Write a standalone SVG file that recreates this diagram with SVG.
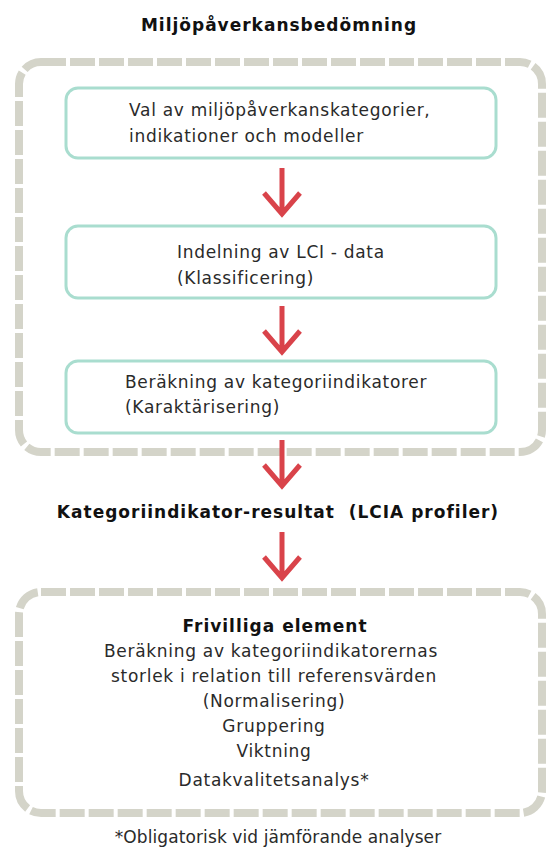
<svg xmlns="http://www.w3.org/2000/svg" width="546" height="853" viewBox="0 0 546 853">
<defs>
<style>
.dash{fill:none;stroke:#d4d4c9;stroke-width:8;stroke-dasharray:25 4}
.box{fill:#ffffff;stroke:#a9ddcf;stroke-width:3}
.t{font-family:"DejaVu Sans",Verdana,sans-serif;font-size:17px;letter-spacing:0.7px;fill:#2a2a2a}
.b{font-family:"DejaVu Sans",Verdana,sans-serif;font-size:17px;letter-spacing:1px;font-weight:bold;fill:#111111}
.c{text-anchor:middle}
.arr{fill:none;stroke:#d9434a;stroke-width:5;stroke-linecap:butt;stroke-linejoin:miter}
</style>
</defs>
<rect width="546" height="853" fill="#ffffff"/>
<text id="title" class="b c" x="279" y="31">Miljöpåverkansbedömning</text>
<g id="group-lcia">
<rect class="dash" x="19" y="62" width="523" height="390" rx="22"/>
</g>
<g id="node-val">
<rect class="box" x="66" y="88" width="430" height="70" rx="12"/>
<text class="t" x="129" y="116">Val av miljöpåverkanskategorier,</text>
<text class="t" x="129" y="142">indikationer och modeller</text>
</g>
<g id="node-indelning">
<rect class="box" x="66" y="226" width="430" height="72" rx="12"/>
<text class="t" x="177" y="258">Indelning av LCI - data</text>
<text class="t" x="177" y="284">(Klassificering)</text>
</g>
<g id="node-berakning">
<rect class="box" x="66" y="361" width="430" height="72" rx="12"/>
<text class="t" x="125" y="388">Beräkning av kategoriindikatorer</text>
<text class="t" x="125" y="413">(Karaktärisering)</text>
</g>
<g id="node-resultat">
<text class="b c" x="278" y="518" xml:space="preserve">Kategoriindikator-resultat&#160; (LCIA profiler)</text>
</g>
<g id="group-frivilliga">
<rect class="dash" x="19" y="592" width="523" height="221" rx="22"/>
<text class="b c" x="275" y="632">Frivilliga element</text>
<text class="t c" x="271" y="657">Beräkning av kategoriindikatorernas</text>
<text class="t c" x="274" y="682">storlek i relation till referensvärden</text>
<text class="t c" x="274" y="707">(Normalisering)</text>
<text class="t c" x="274" y="732">Gruppering</text>
<text class="t c" x="274" y="757">Viktning</text>
<text class="t c" x="274" y="786">Datakvalitetsanalys*</text>
</g>
<text id="footnote" class="t c" x="278" y="843" style="letter-spacing:0.1px">*Obligatorisk vid jämförande analyser</text>
<g id="connectors">
<path class="arr" d="M282 168V215M264 193L282 214L300 193"/>
<path class="arr" d="M282 306V353M264 331L282 352L300 331"/>
<path class="arr" d="M282 440V487M264 465L282 486L300 465"/>
<path class="arr" d="M282 532V579M264 557L282 578L300 557"/>
</g>
</svg>
